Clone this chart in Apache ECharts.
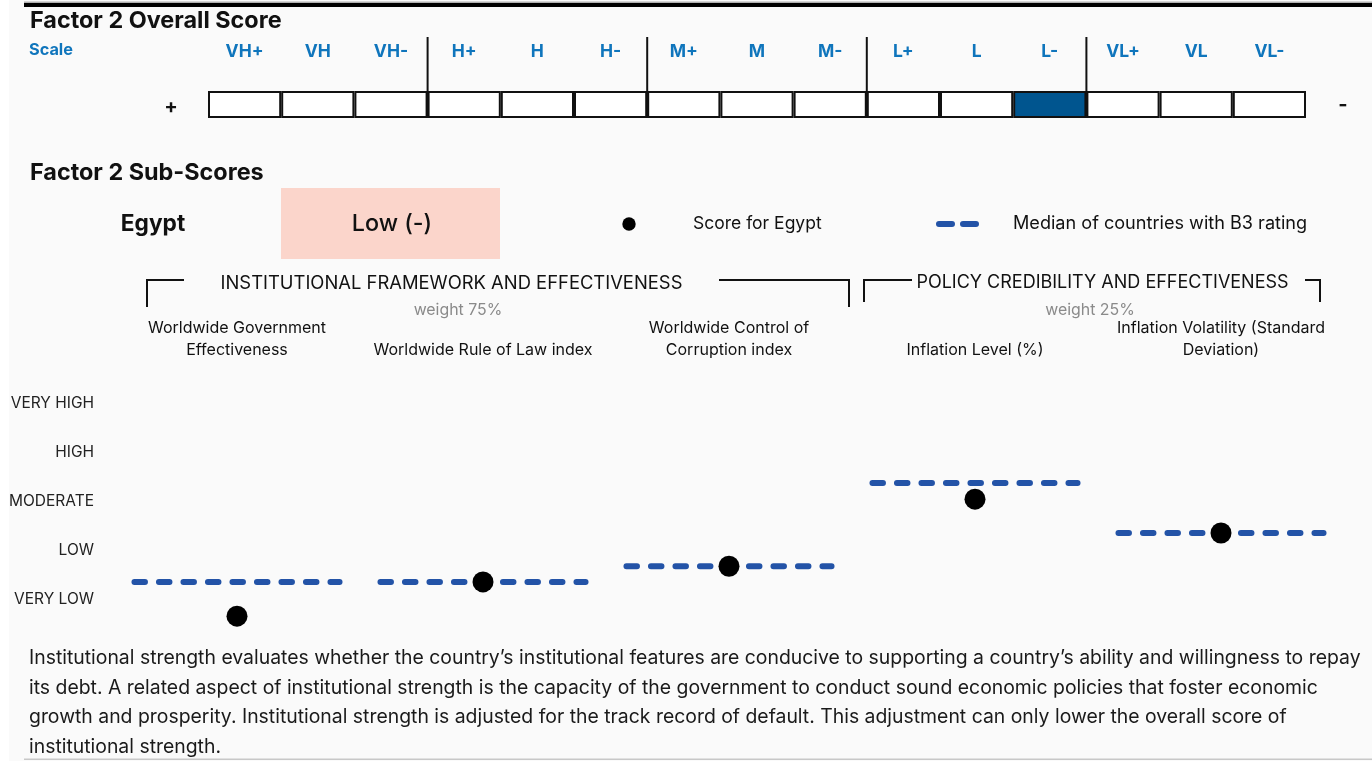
<!DOCTYPE html>
<html>
<head>
<meta charset="utf-8">
<title>Factor 2 Scores — Egypt</title>
<script src="https://cdn.jsdelivr.net/npm/echarts@6/dist/echarts.min.js"></script>
<style>
  html, body { margin: 0; padding: 0; background: #ffffff; }
  #chart { width: 1372px; height: 761px; }
</style>
</head>
<body>
<div id="chart"></div>
<script>
// Overall scale (15 notches, strongest to weakest) and the assigned score
const scaleLevels = ['VH+', 'VH', 'VH-', 'H+', 'H', 'H-', 'M+', 'M', 'M-', 'L+', 'L', 'L-', 'VL+', 'VL', 'VL-'];
const overallScore = 'L-';
// Category index where each broad group (H, M, L, VL) begins
const groupStarts = [3, 6, 9, 12];

// Sub-factor categories
const subFactors = [
  'Worldwide Government\nEffectiveness',
  'Worldwide Rule of Law index',
  'Worldwide Control of\nCorruption index',
  'Inflation Level (%)',
  'Inflation Volatility (Standard\nDeviation)'
];

// Score bands on the vertical axis (1 = very low ... 5 = very high)
const ratingBands = ['', 'VERY LOW', 'LOW', 'MODERATE', 'HIGH', 'VERY HIGH'];

// Sub-scores for the country and the peer-group median
const egyptScores = [0.65, 1.35, 1.67, 3.04, 2.35];
const b3Medians = [1.35, 1.35, 1.67, 3.37, 2.35];

const countryName = 'Egypt';
const countryScoreText = 'Low (-)';
const scoreSeriesName = 'Score for Egypt';
const medianSeriesName = 'Median of countries with B3 rating';

const footerLines = [
  "Institutional strength evaluates whether the country\u2019s institutional features are conducive to supporting a country\u2019s ability and willingness to repay",
  "its debt. A related aspect of institutional strength is the capacity of the government to conduct sound economic policies that foster economic",
  "growth and prosperity. Institutional strength is adjusted for the track record of default. This adjustment can only lower the overall score of",
  "institutional strength."
];

const FONT = 'Inter, Lato, sans-serif';
const INK = '#111111';
const SCALE_BLUE = '#0f75bc';
const CELL_BLUE = '#00558f';
const MEDIAN_BLUE = '#2353a7';

function txt(x, y, text, opts) {
  opts = opts || {};
  return {
    type: 'text', x: x, y: y, silent: true,
    style: {
      text: text,
      fontFamily: FONT,
      fontSize: opts.size || 16,
      fontWeight: opts.weight || 'normal',
      fill: opts.color || INK,
      align: opts.align || 'left',
      verticalAlign: 'middle'
    }
  };
}

function bracket(points) {
  return {
    type: 'polyline', silent: true,
    shape: { points: points },
    style: { stroke: INK, lineWidth: 2, fill: null }
  };
}

const graphics = [
  { type: 'rect', silent: true, shape: { x: 0, y: 0, width: 9, height: 761 }, style: { fill: '#ffffff' } },
  { type: 'rect', silent: true, shape: { x: 24, y: 1.5, width: 1348, height: 1.5 }, style: { fill: '#b0b0b0' } },
  { type: 'rect', silent: true, shape: { x: 24, y: 3, width: 1348, height: 4 }, style: { fill: '#000000' } },
  { type: 'rect', silent: true, shape: { x: 24, y: 758.5, width: 1348, height: 1.5 }, style: { fill: '#c8c8c8' } },

  txt(30, 20.5, 'Factor 2 Overall Score', { size: 23.4, weight: 'bold' }),
  txt(29, 50, 'Scale', { size: 16.3, weight: 'bold', color: SCALE_BLUE }),
  txt(171, 107, '+', { size: 20, weight: 'bold', align: 'center' }),
  txt(1343, 105, '-', { size: 20, weight: 'bold', align: 'center' }),

  txt(30, 172.5, 'Factor 2 Sub-Scores', { size: 23.4, weight: 'bold' }),
  txt(153, 224, countryName, { size: 22.7, weight: 'bold', align: 'center' }),
  { type: 'rect', silent: true, shape: { x: 281, y: 188, width: 219, height: 71 }, style: { fill: '#fbd5cb' } },
  txt(392, 224, countryScoreText, { size: 23.3, weight: 500, align: 'center' }),

  { type: 'circle', silent: true, shape: { cx: 629, cy: 224, r: 6.7 }, style: { fill: '#000000' } },
  txt(693, 224, scoreSeriesName, { size: 17.5 }),
  { type: 'line', silent: true, shape: { x1: 939, y1: 224, x2: 976, y2: 224 },
    style: { stroke: MEDIAN_BLUE, lineWidth: 6, lineDash: [13, 11], lineCap: 'round' } },
  txt(1013, 224, medianSeriesName, { size: 18.1 }),

  bracket([[147, 307], [147, 280], [184, 280]]),
  bracket([[719, 280], [849, 280], [849, 307]]),
  bracket([[864, 302], [864, 280], [912, 280]]),
  bracket([[1305, 280], [1320, 280], [1320, 302]]),
  txt(451.5, 283, 'INSTITUTIONAL FRAMEWORK AND EFFECTIVENESS', { size: 18.4, align: 'center' }),
  txt(1102.5, 283, 'POLICY CREDIBILITY AND EFFECTIVENESS', { size: 18, align: 'center' }),
  txt(458, 310, 'weight 75%', { size: 15.9, color: '#8a8a8a', align: 'center' }),
  txt(1090, 310, 'weight 25%', { size: 15.9, color: '#8a8a8a', align: 'center' })
];

footerLines.forEach(function (line, i) {
  graphics.push(txt(29, 658 + i * 29.7, line, { size: 19.4, color: '#1a1a1a' }));
});

const chart = echarts.init(document.getElementById('chart'), null, { renderer: 'canvas' });

chart.setOption({
  backgroundColor: '#fafafa',
  animation: false,
  textStyle: { fontFamily: FONT },
  grid: [
    { left: 208, right: 66, top: 91, height: 27 },
    { left: 114, right: 28, top: 369, bottom: 113 }
  ],
  xAxis: [
    {
      gridIndex: 0, type: 'category', position: 'top', data: scaleLevels,
      boundaryGap: true,
      axisLine: { show: false },
      axisTick: { show: false },
      axisLabel: {
        interval: 0, margin: 30, fontSize: 17.5, fontWeight: 'bold',
        color: SCALE_BLUE, fontFamily: FONT
      }
    },
    {
      gridIndex: 1, type: 'category', position: 'top', data: subFactors,
      axisLine: { show: false },
      axisTick: { show: false },
      axisLabel: {
        interval: 0, margin: 8, fontSize: 16, lineHeight: 22,
        color: INK, fontFamily: FONT, align: 'center'
      }
    }
  ],
  yAxis: [
    { gridIndex: 0, type: 'value', min: 0, max: 1, show: false },
    {
      gridIndex: 1, type: 'value', min: 0, max: 5.7, interval: 1,
      axisLine: { show: false }, axisTick: { show: false }, splitLine: { show: false },
      axisLabel: {
        margin: 20, fontSize: 15.5, color: '#222222', fontFamily: FONT,
        formatter: function (v) { return Number.isInteger(v) ? (ratingBands[v] || '') : ''; }
      }
    }
  ],
  series: [
    {
      type: 'bar', xAxisIndex: 0, yAxisIndex: 0, silent: true,
      barCategoryGap: '0%', barGap: '0%',
      itemStyle: { borderColor: INK, borderWidth: 2 },
      data: scaleLevels.map(function (lvl) {
        return { value: 1, itemStyle: { color: lvl === overallScore ? CELL_BLUE : '#ffffff' } };
      })
    },
    {
      // group dividers rising above the scale boxes
      type: 'custom', xAxisIndex: 0, yAxisIndex: 0, silent: true, z: 3, clip: false,
      data: groupStarts.map(function (i) { return [i, 1]; }),
      renderItem: function (params, api) {
        const top = api.coord([api.value(0), 1]);
        const bottom = api.coord([api.value(0), 0]);
        const x = top[0] - api.size([1, 0])[0] / 2;
        return {
          type: 'line',
          shape: { x1: x, y1: top[1] - 54, x2: x, y2: bottom[1] },
          style: { stroke: INK, lineWidth: 2 }
        };
      }
    },
    {
      name: medianSeriesName, type: 'custom', xAxisIndex: 1, yAxisIndex: 1, silent: true, z: 2,
      clip: false,
      data: b3Medians.map(function (v, i) { return [i, v]; }),
      renderItem: function (params, api) {
        const c = api.coord([api.value(0), api.value(1)]);
        const half = api.size([1, 0])[0] * 0.429;
        return {
          type: 'line',
          shape: { x1: c[0] - half + 3, y1: c[1], x2: c[0] + half - 3, y2: c[1] },
          style: { stroke: MEDIAN_BLUE, lineWidth: 6, lineDash: [10.5, 14], lineCap: 'round', fill: null }
        };
      }
    },
    {
      name: scoreSeriesName, type: 'scatter', xAxisIndex: 1, yAxisIndex: 1, silent: true, z: 5,
      clip: false,
      symbol: 'circle', symbolSize: 21,
      itemStyle: { color: '#000000', opacity: 1 },
      data: egyptScores.map(function (v, i) { return [i, v]; })
    }
  ],
  graphic: graphics
});
</script>
</body>
</html>
